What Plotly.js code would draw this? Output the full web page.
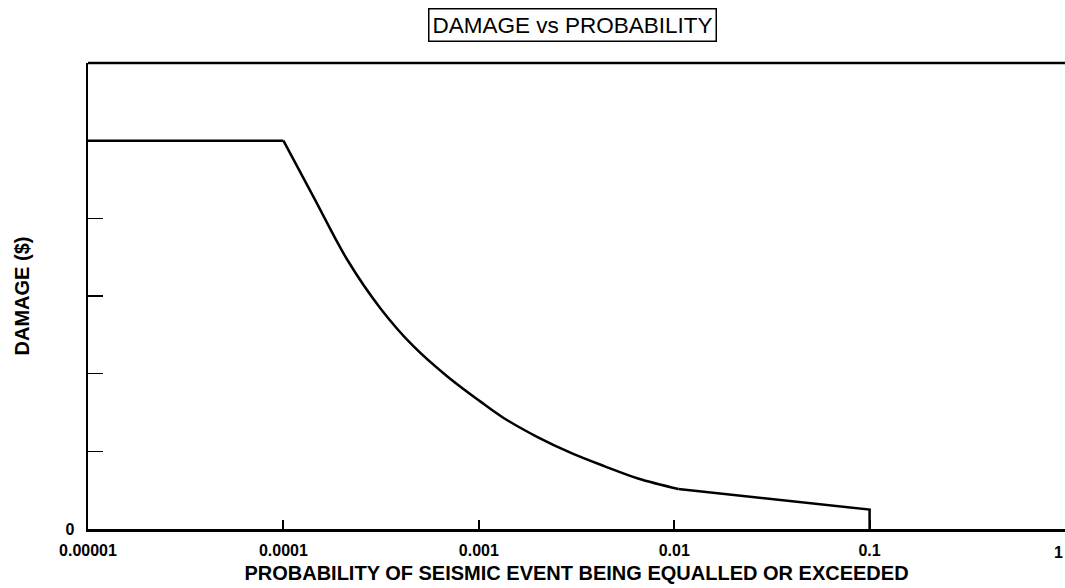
<!DOCTYPE html>
<html>
<head>
<meta charset="utf-8">
<script src="https://cdn.plot.ly/plotly-3.0.1.min.js"></script>
<style>
  html, body { margin: 0; padding: 0; background: #fff; }
  #chart { width: 1065px; height: 588px; }
</style>
</head>
<body>
<div id="chart"></div>
<script>
// Flat plateau below the lowest probability of interest
const plateauProbability = [0.00001, 0.0001];
const plateauDamage = [5.0, 5.0];
// Damage curve between 1e-4 and 1e-2 (smooth)
const curveProbability = [0.0001, 0.000143, 0.000213, 0.000314, 0.000464, 0.000693,
                          0.00102, 0.00134, 0.00201, 0.00296, 0.00438, 0.00653, 0.0105];
const curveDamage = [5.0, 4.27, 3.46, 2.84, 2.35, 1.96,
                     1.64, 1.43, 1.18, 0.98, 0.81, 0.65, 0.515];
// Straight tail up to 0.1, then the drop to zero
const tailProbability = [0.0105, 0.1, 0.1];
const tailDamage = [0.515, 0.25, 0];

const xTickVals = [0.00001, 0.0001, 0.001, 0.01, 0.1, 1];
const xTickText = ['0.00001', '0.0001', '0.001', '0.01', '0.1', '1'];
const yTickVals = [0, 1, 2, 3, 4, 5, 6];
const yTickText = ['0', '', '', '', '', '', ''];

const FONT = 'Liberation Sans, Arial, Helvetica, sans-serif';
const LINE = { color: '#000', width: 2.5 };

function segment(x, y, shape) {
  return {
    x: x, y: y, type: 'scatter', mode: 'lines',
    line: Object.assign({ shape: shape, smoothing: 1 }, LINE),
    hoverinfo: 'skip', showlegend: false
  };
}

const traces = [
  segment(plateauProbability, plateauDamage, 'linear'),
  segment(curveProbability, curveDamage, 'spline'),
  segment(tailProbability, tailDamage, 'linear')
];

const layout = {
  width: 1065,
  height: 588,
  margin: { l: 88, r: 0, t: 63, b: 59, pad: 0 },
  paper_bgcolor: '#fff',
  plot_bgcolor: '#fff',
  font: { family: FONT, color: '#000' },
  xaxis: {
    type: 'log',
    range: [-5, 0],
    tickvals: xTickVals,
    ticktext: xTickText,
    ticks: 'inside',
    ticklen: 9,
    tickwidth: 2,
    tickcolor: '#000',
    ticklabelstandoff: 5,
    showline: true,
    linewidth: 2.5,
    linecolor: '#000',
    showgrid: false,
    zeroline: false,
    tickfont: { family: FONT, size: 16, weight: 'bold', color: '#000' },
    title: {
      text: 'PROBABILITY OF SEISMIC EVENT BEING EQUALLED OR EXCEEDED',
      font: { family: FONT, size: 20, weight: 'bold', color: '#000' },
      standoff: 9
    }
  },
  yaxis: {
    range: [0, 6],
    tickvals: yTickVals,
    ticktext: yTickText,
    ticks: 'inside',
    ticklen: 15,
    tickwidth: 1.5,
    tickcolor: '#000',
    ticklabelstandoff: 8,
    showline: true,
    linewidth: 2.5,
    linecolor: '#000',
    showgrid: false,
    zeroline: false,
    tickfont: { family: FONT, size: 16, weight: 'bold', color: '#000' },
    title: {
      text: 'DAMAGE ($)',
      font: { family: FONT, size: 20, weight: 'bold', color: '#000' },
      standoff: 31
    }
  },
  shapes: [{
    type: 'line', xref: 'paper', yref: 'paper',
    x0: 0, x1: 1, y0: 1, y1: 1,
    line: { color: '#000', width: 2.5 }
  }],
  annotations: [{
    text: 'DAMAGE vs PROBABILITY',
    xref: 'paper', yref: 'paper',
    x: 0.4955, y: 1, yshift: 38,
    xanchor: 'center', yanchor: 'middle',
    showarrow: false,
    font: { family: FONT, size: 22.5, color: '#000' },
    bordercolor: '#000',
    borderwidth: 1.5,
    borderpad: 3,
    bgcolor: '#fff'
  }, {
    // last decade label, kept inside the right edge of the page
    text: xTickText[5],
    xref: 'x', yref: 'paper',
    x: Math.log10(xTickVals[5]), y: 0, yshift: -23,
    xanchor: 'right', yanchor: 'middle',
    showarrow: false,
    font: { family: FONT, size: 16, weight: 'bold', color: '#000' }
  }]
};

Plotly.newPlot('chart', traces, layout, { displayModeBar: false, staticPlot: true });
</script>
</body>
</html>
